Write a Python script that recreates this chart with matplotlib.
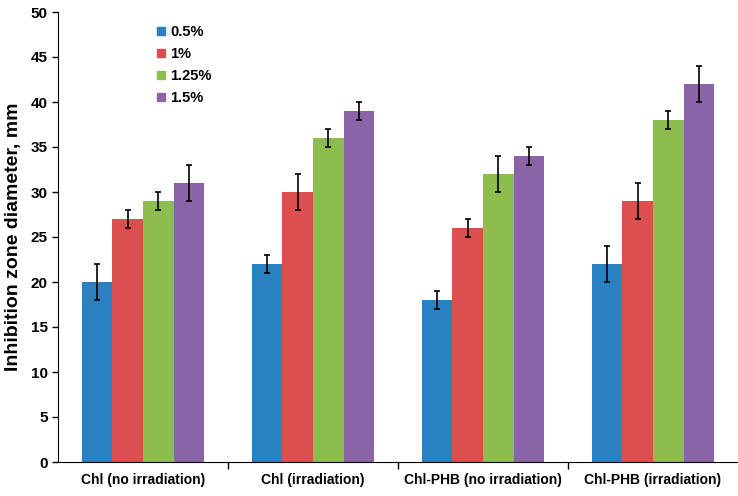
import matplotlib

matplotlib.use("Agg")
import matplotlib.pyplot as plt
import numpy as np
from matplotlib.lines import Line2D

plt.rcParams["font.family"] = ["Liberation Sans", "DejaVu Sans"]
plt.rcParams["font.weight"] = "bold"

groups = ["Chl (no irradiation)", "Chl (irradiation)", "Chl-PHB (no irradiation)", "Chl-PHB (irradiation)"]
series = ["0.5%", "1%", "1.25%", "1.5%"]
colors = ["#2A81C2", "#DC4F4F", "#8DBD4F", "#8A64A6"]
values = [
    [20, 22, 18, 22],
    [27, 30, 26, 29],
    [29, 36, 32, 38],
    [31, 39, 34, 42],
]
errors = [
    [2, 1, 1, 2],
    [1, 2, 1, 2],
    [1, 1, 2, 1],
    [2, 1, 1, 2],
]

fig = plt.figure(figsize=(7.38, 4.96), dpi=100)
ax = fig.add_axes([58 / 738, 34 / 496, 680 / 738, 450 / 496])

x = np.arange(len(groups))
w = 0.18
for i, name in enumerate(series):
    pos = x + (i - 1.5) * w
    ax.bar(pos, values[i], w, color=colors[i], label=name, zorder=2)
    ax.errorbar(pos, values[i], yerr=errors[i], fmt="none", ecolor="black",
                elinewidth=1.2, capsize=2.5, capthick=1.2, zorder=3)

ax.set_xlim(-0.5, 3.5)
ax.set_ylim(0, 50)
ax.set_yticks(range(0, 51, 5))
ax.set_xticks(x)
ax.set_xticklabels(groups, fontsize=10, fontweight="bold")
ax.set_xticks([0.5, 1.5, 2.5], minor=True)
ax.tick_params(axis="x", which="major", length=0, pad=8)
ax.tick_params(axis="x", which="minor", length=5, width=1)
ax.tick_params(axis="y", labelsize=11, length=4, width=1)
for lab in ax.get_yticklabels():
    lab.set_fontweight("bold")
ax.spines["top"].set_visible(False)
ax.spines["right"].set_visible(False)
ax.set_ylabel("Inhibition zone diameter, mm", fontsize=14, fontweight="bold", labelpad=6)

handles = [Line2D([], [], marker="s", linestyle="none", markersize=5.5,
                  markerfacecolor=c, markeredgecolor=c) for c in colors]
ax.legend(handles, series, loc="upper left", bbox_to_anchor=(0.122, 1.0),
          frameon=False, handletextpad=0.1, handlelength=1.0,
          labelspacing=0.55, prop={"weight": "bold", "size": 10.5})

fig.savefig("out.png", dpi=100)
